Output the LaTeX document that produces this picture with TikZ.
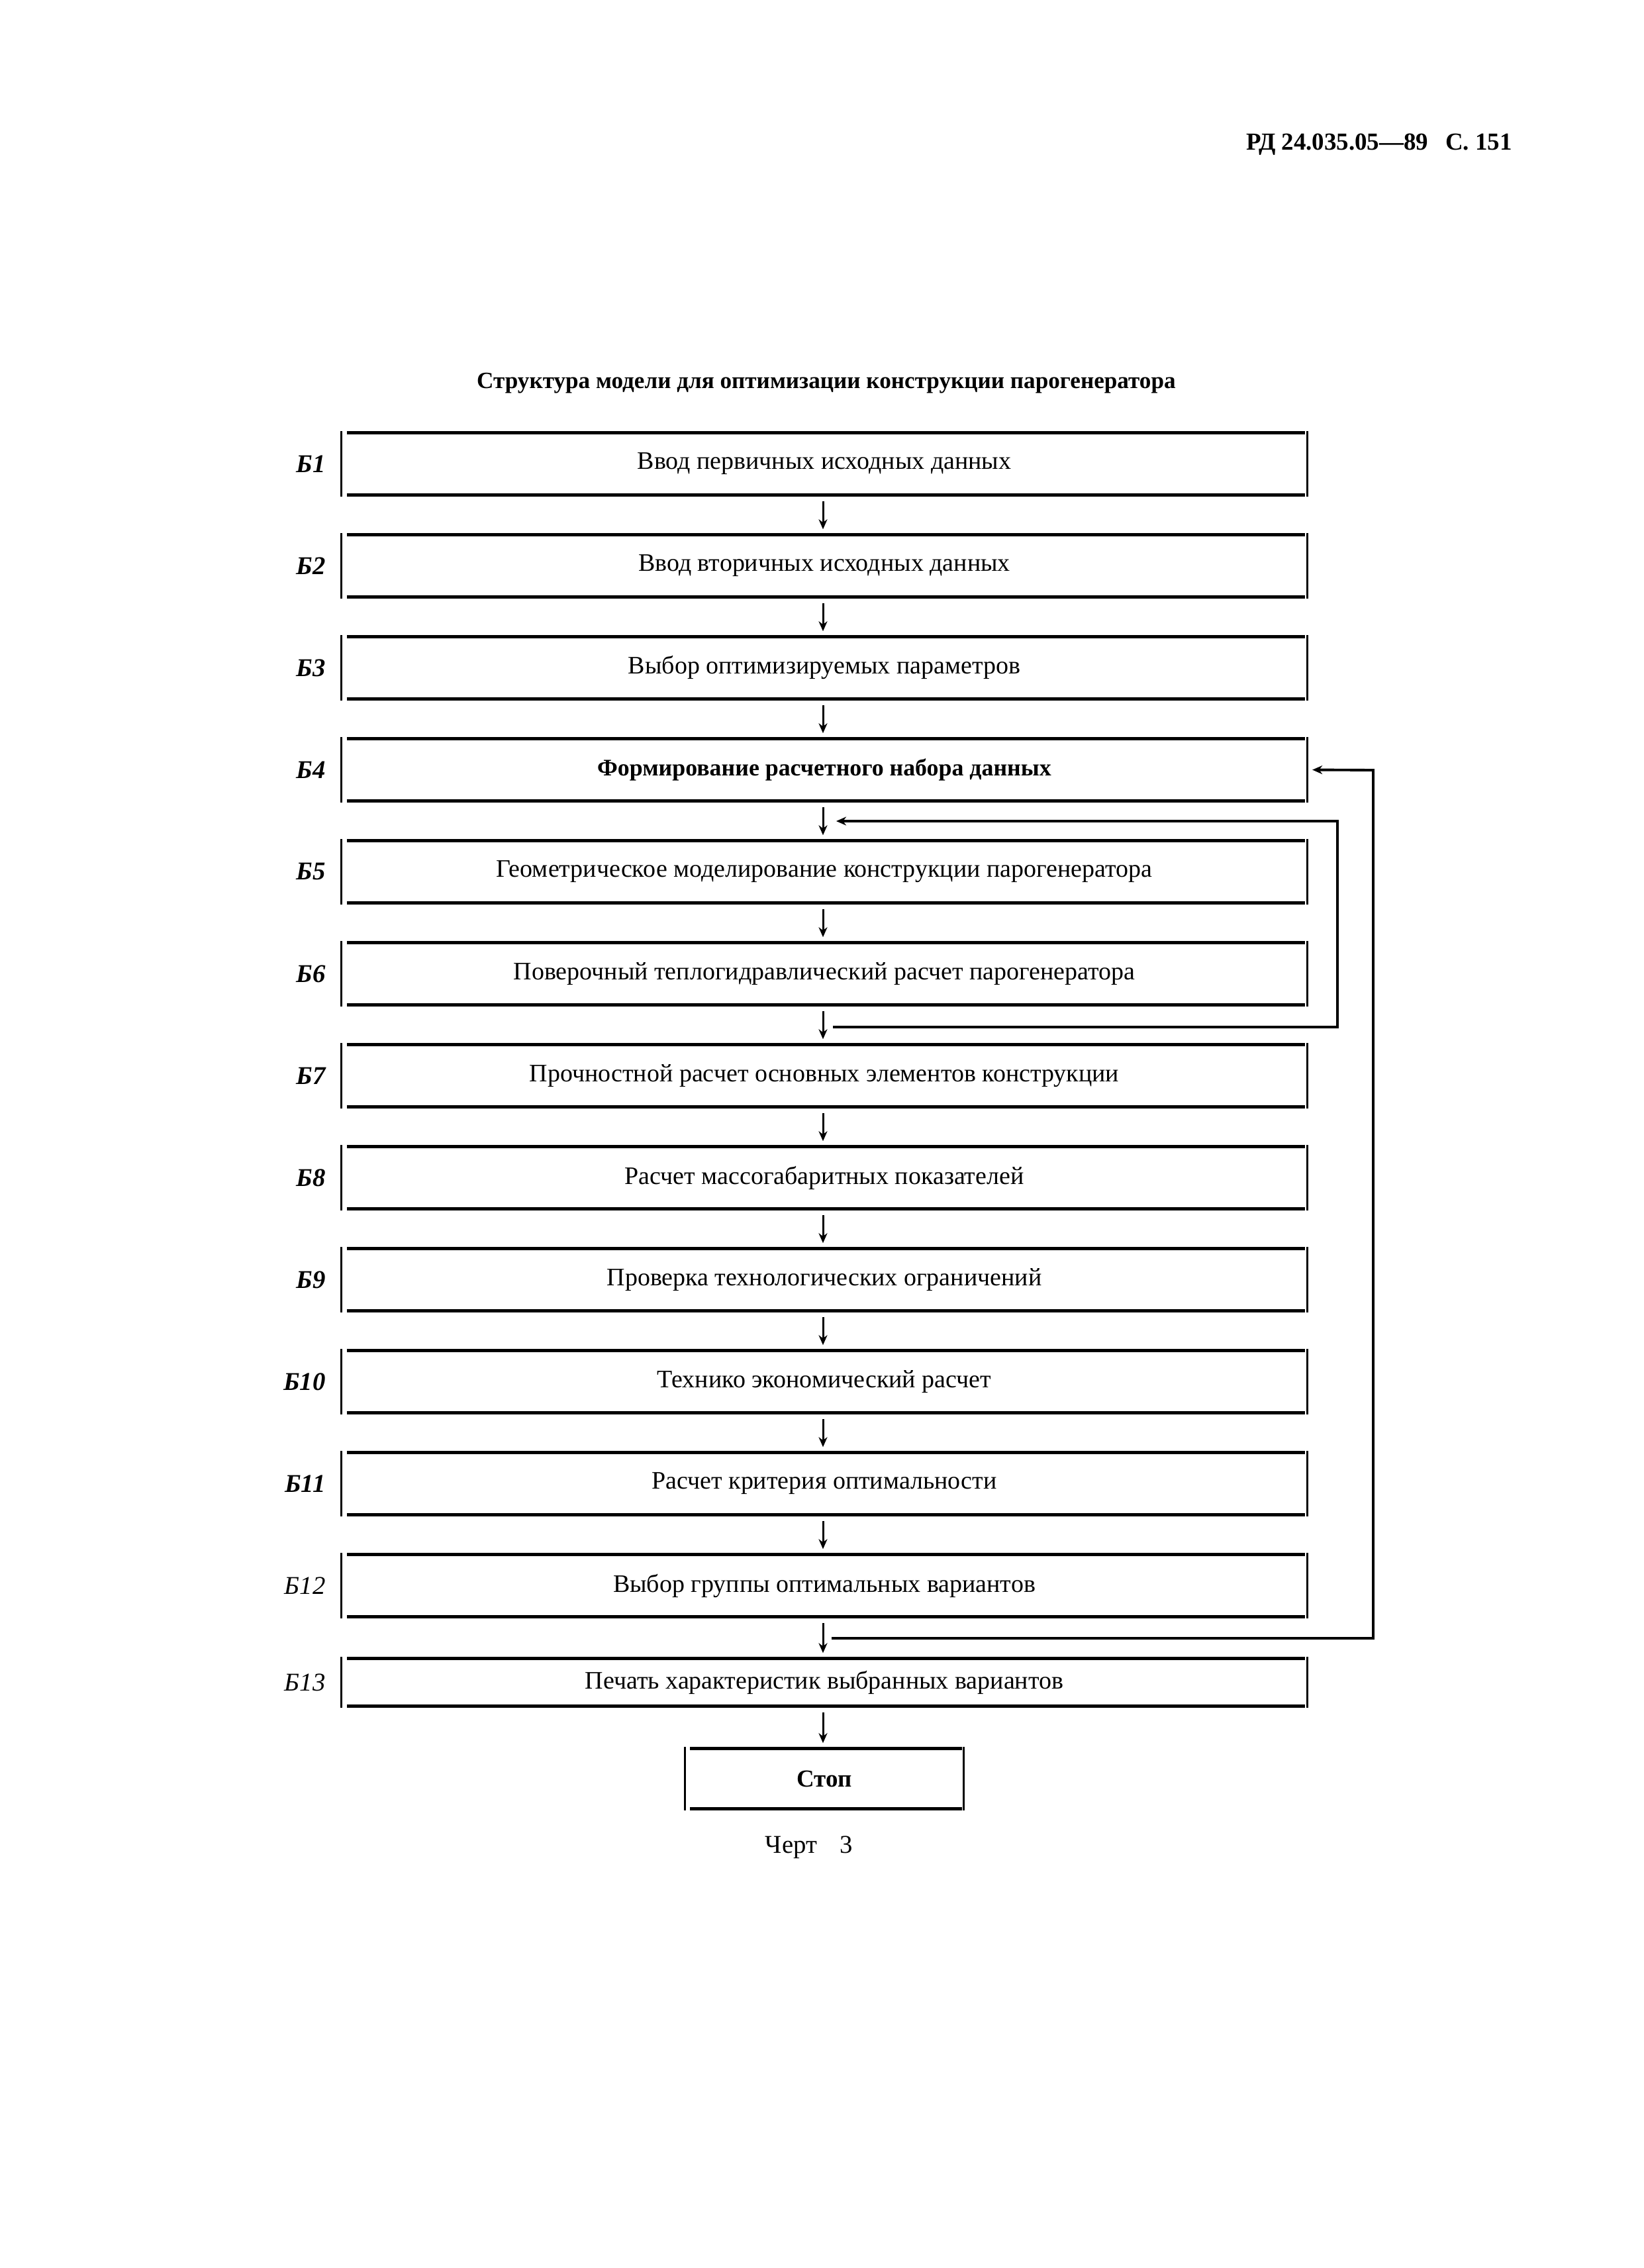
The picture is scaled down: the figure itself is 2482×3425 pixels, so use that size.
\documentclass[tikz,border=0pt]{standalone}
\usepackage{fontspec}
\setmainfont{Liberation Serif}
\usetikzlibrary{arrows.meta,calc}
\begin{document}
\begin{tikzpicture}[x=0.01cm,y=-0.01cm,
  blk/.style={rectangle,draw=none,minimum width=14.56cm,minimum height=0.97cm,inner sep=0pt,font=\fontsize{10.8}{13}\selectfont},
  lbl/.style={anchor=east,font=\fontsize{11}{13}\selectfont\bfseries\itshape},
  lbllight/.style={anchor=east,font=\fontsize{11}{13}\selectfont\itshape},
  vline/.style={line width=0.9pt},
  hline/.style={line width=1.5pt},
  flow/.style={line width=0.85pt,-{Stealth[length=0.15cm,width=0.13cm]}},
  loopline/.style={line width=1.1pt}
]
\useasboundingbox (0,0) rectangle (2482,3425);

\node[font=\fontsize{10.5}{12}\selectfont\bfseries] (hdr) at (2083,218) {РД 24.035.05—89\hspace{0.7em}С. 151};
\node[font=\fontsize{10}{12}\selectfont\bfseries] (title) at (1248,579) {Структура модели для оптимизации конструкции парогенератора};

\node[blk] (B1) at (1245,700.5) {Ввод первичных исходных данных};
\node[blk] (B2) at (1245,854.5) {Ввод вторичных исходных данных};
\node[blk] (B3) at (1245,1008.5) {Выбор оптимизируемых параметров};
\node[blk,font=\fontsize{10.2}{13}\selectfont\bfseries] (B4) at (1245,1162.5) {Формирование расчетного набора данных};
\node[blk] (B5) at (1245,1316.5) {Геометрическое моделирование конструкции парогенератора};
\node[blk] (B6) at (1245,1470.5) {Поверочный теплогидравлический расчет парогенератора};
\node[blk] (B7) at (1245,1624.5) {Прочностной расчет основных элементов конструкции};
\node[blk] (B8) at (1245,1778.5) {Расчет массогабаритных показателей};
\node[blk] (B9) at (1245,1932.5) {Проверка технологических ограничений};
\node[blk] (B10) at (1245,2086.5) {Технико экономический расчет};
\node[blk] (B11) at (1245,2240.5) {Расчет критерия оптимальности};
\node[blk] (B12) at (1245,2394.5) {Выбор группы оптимальных вариантов};
\node[blk,minimum height=0.75cm] (B13) at (1245,2540.5) {Печать характеристик выбранных вариантов};
\node[blk,minimum width=4.2cm,minimum height=0.94cm,font=\fontsize{10.5}{12}\selectfont\bfseries] (stop) at (1245,2686) {Стоп};

\foreach \b in {B1,B2,B3,B4,B5,B6,B7,B8,B9,B10,B11,B12,B13,stop}{
  \draw[vline] (\b.north west) -- (\b.south west);
  \draw[vline] (\b.north east) -- (\b.south east);
  \draw[hline] ([xshift=0.08cm,yshift=-0.02cm]\b.north west) -- ([xshift=-0.03cm,yshift=-0.02cm]\b.north east);
  \draw[hline] ([xshift=0.08cm,yshift=0.02cm]\b.south west) -- ([xshift=-0.03cm,yshift=0.02cm]\b.south east);
}

\foreach \i/\t in {1/Б1,2/Б2,3/Б3,4/Б4,5/Б5,6/Б6,7/Б7,8/Б8,9/Б9,10/Б10,11/Б11}{
  \node[lbl] (L\i) at ([xshift=-0.12cm]B\i.west) {\t};
}
\node[lbllight] (L12) at ([xshift=-0.12cm]B12.west) {Б12};
\node[lbllight] (L13) at ([xshift=-0.12cm]B13.west) {Б13};

\foreach \a/\b in {B1/B2,B2/B3,B3/B4,B4/B5,B5/B6,B6/B7,B7/B8,B8/B9,B9/B10,B10/B11,B11/B12,B12/B13,B13/stop}{
  \draw[flow,shorten <=0.07cm,shorten >=0.06cm] ([xshift=-0.02cm]\a.south) -- ([xshift=-0.02cm]\b.north);
}

% inner loop B6 -> B5
\coordinate (i1) at (1258,1551);
\coordinate (i2) at (2020,1551);
\coordinate (i3) at (2020,1240);
\coordinate (i4) at (1263,1240);
\draw[loopline,-{Stealth[length=0.15cm,width=0.13cm]}] (i1) -- (i2) -- (i3) -- (i4);

% outer loop B12 -> B4
\coordinate (o1) at (1256,2474);
\coordinate (o2) at (2074,2474);
\coordinate (o3) at (2074,1163);
\draw[loopline,-{Stealth[length=0.15cm,width=0.13cm]}] (o1) -- (o2) -- (o3) -- ([xshift=0.08cm]B4.east);

\node[font=\fontsize{11}{13}\selectfont] (cap) at (1222,2790) {Черт\hspace{0.9em}3};
\end{tikzpicture}
\end{document}
